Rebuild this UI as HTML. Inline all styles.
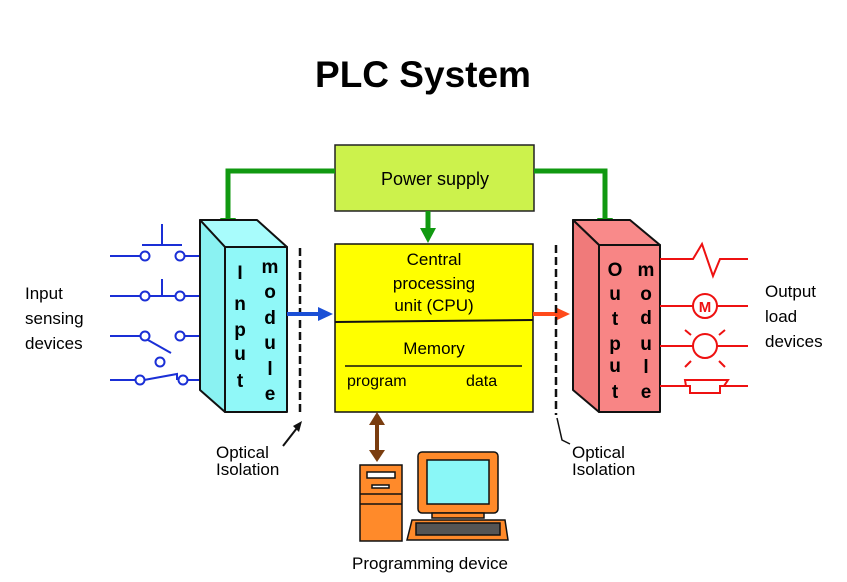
<!DOCTYPE html>
<html><head><meta charset="utf-8"><style>
html,body{margin:0;padding:0;background:#fff;}
svg{display:block;font-family:"Liberation Sans",sans-serif;}
</style></head><body>
<svg width="847" height="582" viewBox="0 0 847 582" xmlns="http://www.w3.org/2000/svg">
<text x="423" y="87" text-anchor="middle" font-size="37" font-weight="bold">PLC System</text>

<rect x="335" y="145" width="199" height="66" fill="#ccf24c" stroke="#222" stroke-width="1.5"/>
<text x="435" y="185" text-anchor="middle" font-size="18">Power supply</text>
<g stroke="#119911" stroke-width="5" fill="none">
<polyline points="335,171 228,171 228,220"/>
<polyline points="534,171 605,171 605,220"/>
<line x1="428" y1="211" x2="428" y2="230"/>
</g>
<g fill="#119911">
<polygon points="220,218 236,218 228,233"/>
<polygon points="597,218 613,218 605,233"/>
<polygon points="420,228 436,228 428,243"/>
</g>

<g stroke="#1a2fd6" stroke-width="2" fill="none">
<line x1="110" y1="256" x2="141" y2="256"/><circle cx="145" cy="256" r="4.5" fill="#fff"/><circle cx="180" cy="256" r="4.5" fill="#fff"/><line x1="184" y1="256" x2="216" y2="256"/>
<line x1="142" y1="245" x2="182" y2="245"/><line x1="162" y1="245" x2="162" y2="224"/>
<line x1="110" y1="296" x2="141" y2="296"/><circle cx="145" cy="296" r="4.5" fill="#fff"/><circle cx="180" cy="296" r="4.5" fill="#fff"/><line x1="184" y1="296" x2="216" y2="296"/>
<line x1="150" y1="296" x2="175" y2="296"/><line x1="162" y1="296" x2="162" y2="279"/>
<line x1="110" y1="336" x2="141" y2="336"/><circle cx="145" cy="336" r="4.5" fill="#fff"/><circle cx="180" cy="336" r="4.5" fill="#fff"/><line x1="184" y1="336" x2="216" y2="336"/>
<line x1="148" y1="340" x2="171" y2="353"/><circle cx="160" cy="362" r="4.5" fill="#fff"/>
<line x1="110" y1="380" x2="136" y2="380"/><circle cx="140" cy="380" r="4.5" fill="#fff"/><circle cx="183" cy="380" r="4.5" fill="#fff"/><line x1="187" y1="380" x2="216" y2="380"/>
<polyline points="144,380 177,374 177,380"/>
</g>

<g stroke="#111" stroke-width="2" stroke-linejoin="round">
<polygon points="200,220 257,220 287,247 225,247" fill="#a8fcfc"/>
<polygon points="200,220 225,247 225,412 200,390" fill="#8af2f2"/>
<rect x="225" y="247" width="62" height="165" fill="#90f8f8"/>
</g>
<g font-size="19" font-weight="bold" text-anchor="middle">
<text x="240" y="279">I</text><text x="240" y="310">n</text><text x="240" y="336">p</text><text x="240" y="360">u</text><text x="240" y="387">t</text>
<text x="270" y="273">m</text><text x="270" y="298">o</text><text x="270" y="324">d</text><text x="270" y="349">u</text><text x="270" y="375">l</text><text x="270" y="400">e</text>
</g>
<line x1="300" y1="248" x2="300" y2="415" stroke="#111" stroke-width="2.5" stroke-dasharray="8,4"/>
<line x1="287" y1="314" x2="320" y2="314" stroke="#1a4fd6" stroke-width="4"/>
<polygon points="318,307 333,314 318,321" fill="#1a4fd6"/>

<rect x="335" y="244" width="198" height="168" fill="#ffff00" stroke="#111" stroke-width="1.5"/>
<line x1="335" y1="322" x2="533" y2="320" stroke="#111" stroke-width="2"/>
<g font-size="17" text-anchor="middle">
<text x="434" y="265">Central</text>
<text x="434" y="289">processing</text>
<text x="434" y="311">unit (CPU)</text>
<text x="434" y="354">Memory</text>
</g>
<line x1="345" y1="366" x2="522" y2="366" stroke="#111" stroke-width="1.5"/>
<text x="347" y="386" font-size="16">program</text>
<text x="466" y="386" font-size="16">data</text>

<line x1="533" y1="314" x2="556" y2="314" stroke="#ff4a1a" stroke-width="4"/>
<polygon points="555,307 570,314 555,321" fill="#ff4a1a"/>
<line x1="556" y1="245" x2="556" y2="415" stroke="#111" stroke-width="2.5" stroke-dasharray="8,4"/>

<g stroke="#111" stroke-width="2" stroke-linejoin="round">
<polygon points="573,220 630,220 660,245 599,245" fill="#f98a8a"/>
<polygon points="573,220 599,245 599,412 573,390" fill="#f07a7a"/>
<rect x="599" y="245" width="61" height="167" fill="#f88585"/>
</g>
<g font-size="19" font-weight="bold" text-anchor="middle">
<text x="615" y="276">O</text><text x="615" y="300">u</text><text x="615" y="325">t</text><text x="615" y="350">p</text><text x="615" y="372">u</text><text x="615" y="398">t</text>
<text x="646" y="276">m</text><text x="646" y="300">o</text><text x="646" y="324">d</text><text x="646" y="350">u</text><text x="646" y="373">l</text><text x="646" y="398">e</text>
</g>

<g stroke="#ee1111" stroke-width="2" fill="none">
<polyline points="660,259 693,259 702,244 713,276 720,259 748,259"/>
<line x1="660" y1="306" x2="693" y2="306"/><circle cx="705" cy="306" r="12"/><line x1="717" y1="306" x2="748" y2="306"/>
<line x1="660" y1="346" x2="693" y2="346"/><circle cx="705" cy="346" r="12"/><line x1="717" y1="346" x2="748" y2="346"/>
<line x1="685" y1="330" x2="691" y2="335"/><line x1="725" y1="330" x2="719" y2="335"/>
<line x1="685" y1="367" x2="691" y2="361"/><line x1="725" y1="367" x2="719" y2="361"/>
<line x1="660" y1="386" x2="685" y2="386"/><polygon points="685,380 728,380 724,386 720,386 720,393 690,393 690,386 686,386"/><line x1="724" y1="386" x2="748" y2="386"/>
</g>
<text x="705" y="312" text-anchor="middle" font-size="15" font-weight="bold" fill="#ee1111">M</text>

<g font-size="17">
<text x="25" y="299">Input</text><text x="25" y="324">sensing</text><text x="25" y="349">devices</text>
<text x="765" y="297">Output</text><text x="765" y="322">load</text><text x="765" y="347">devices</text>
<text x="216" y="458">Optical</text><text x="216" y="475">Isolation</text>
<text x="572" y="458">Optical</text><text x="572" y="475">Isolation</text>
</g>
<line x1="283" y1="446" x2="297" y2="428" stroke="#111" stroke-width="2"/>
<polygon points="293,426 302,421 299,432" fill="#111"/>
<polyline points="557,418 562,440 570,444" stroke="#111" stroke-width="1.5" fill="none"/>

<line x1="377" y1="422" x2="377" y2="452" stroke="#7a3d0f" stroke-width="4"/>
<polygon points="369,425 377,412 385,425" fill="#7a3d0f"/>
<polygon points="369,450 377,462 385,450" fill="#7a3d0f"/>

<g stroke="#111" stroke-width="1.5">
<rect x="360" y="465" width="42" height="76" fill="#ff8a2a"/>
<rect x="367" y="472" width="28" height="6" fill="#fff"/>
<rect x="372" y="485" width="17" height="3" fill="#fff"/>
<line x1="360" y1="494" x2="402" y2="494"/>
<line x1="360" y1="504" x2="402" y2="504"/>
<rect x="418" y="452" width="80" height="61" rx="4" fill="#ff8a2a"/>
<rect x="427" y="460" width="62" height="44" fill="#8af7f7"/>
<rect x="432" y="513" width="52" height="5" fill="#ff8a2a"/>
<polygon points="412,520 505,520 508,540 407,540" fill="#ff8a2a"/>
<rect x="416" y="523" width="84" height="12" fill="#555"/>
</g>
<text x="430" y="569" text-anchor="middle" font-size="17">Programming device</text>
</svg>
</body></html>
